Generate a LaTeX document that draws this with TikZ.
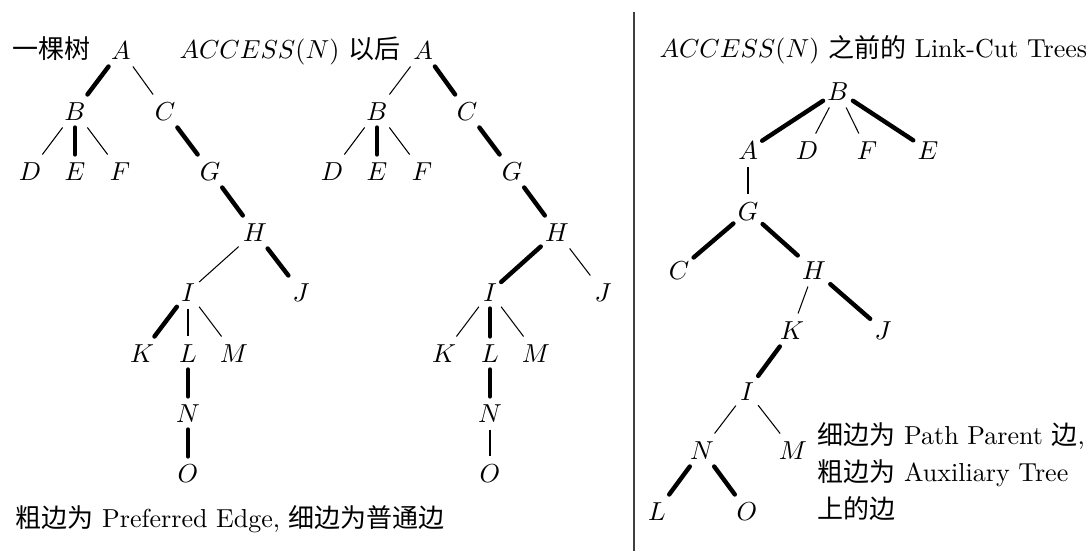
\documentclass[tikz,border=0pt]{standalone}
\usepackage{fontspec}
\newfontfamily\cjk{Noto Sans CJK SC}
\begin{document}
\begin{tikzpicture}[x=0.3846pt,y=-0.3846pt,
  tn/.style={rectangle, inner sep=1.5pt, text height=8.4pt, text depth=0.9pt},
  pe/.style={line width=1.7pt, line cap=round},
  ne/.style={line width=0.4pt},
  lbl/.style={anchor=base west, inner sep=0pt}]
\useasboundingbox (0,0) rectangle (1090,551);

% ---------- Tree 1 ----------
\foreach \n/\x/\y [count=\i] in {A/121/50,B/75/111,C/165/111,D/30/171,E/75/171,F/120/171,G/210/171,H/255/232,I/188/292,J/301/292,K/142/353,L/188/353,M/234/353,N/188/413,O/188/473}
  \node[tn] (\n1) at (\x,\y) {$\n$};
\draw[pe] (A1) -- (B1);
\draw[ne] (A1) -- (C1);
\draw[ne] (B1) -- (D1);
\draw[pe] (B1) -- (E1);
\draw[ne] (B1) -- (F1);
\draw[pe] (C1) -- (G1);
\draw[pe] (G1) -- (H1);
\draw[ne] (H1) -- (I1);
\draw[pe] (H1) -- (J1);
\draw[pe] (I1) -- (K1);
\draw[ne] (I1) -- (L1);
\draw[ne] (I1) -- (M1);
\draw[pe] (L1) -- (N1);
\draw[pe] (N1) -- (O1);

% ---------- Tree 2 ----------
\foreach \n/\x/\y in {A/423/50,B/377/111,C/467/111,D/332/171,E/377/171,F/422/171,G/512/171,H/557/232,I/490/292,J/603/292,K/444/353,L/490/353,M/536/353,N/490/413,O/490/473}
  \node[tn] (\n2) at (\x,\y) {$\n$};
\draw[ne] (A2) -- (B2);
\draw[pe] (A2) -- (C2);
\draw[ne] (B2) -- (D2);
\draw[pe] (B2) -- (E2);
\draw[ne] (B2) -- (F2);
\draw[pe] (C2) -- (G2);
\draw[pe] (G2) -- (H2);
\draw[pe] (H2) -- (I2);
\draw[ne] (H2) -- (J2);
\draw[ne] (I2) -- (K2);
\draw[pe] (I2) -- (L2);
\draw[ne] (I2) -- (M2);
\draw[pe] (L2) -- (N2);
\draw[ne] (N2) -- (O2);

% ---------- Tree 3 ----------
\foreach \n/\x/\y in {B/838/91,A/748/150,D/807/150,F/867/150,E/928/150,G/748/211,C/679/270,H/814/270,K/792/330,J/883/330,I/747/391,N/702/450,M/793/450,L/657/511,O/747/511}
  \node[tn] (\n3) at (\x,\y) {$\n$};
\draw[pe] (B3) -- (A3);
\draw[ne] (B3) -- (D3);
\draw[ne] (B3) -- (F3);
\draw[pe] (B3) -- (E3);
\draw[ne] (A3) -- (G3);
\draw[pe] (G3) -- (C3);
\draw[pe] (G3) -- (H3);
\draw[ne] (H3) -- (K3);
\draw[pe] (H3) -- (J3);
\draw[pe] (K3) -- (I3);
\draw[ne] (I3) -- (N3);
\draw[ne] (I3) -- (M3);
\draw[pe] (N3) -- (L3);
\draw[pe] (N3) -- (O3);

% ---------- separator ----------
\coordinate (sepTop) at (634,12);
\coordinate (sepBot) at (634,551);
\draw[line width=0.8pt, black!75] (sepTop) -- (sepBot);

% ---------- labels ----------
\node[lbl] (t1) at (12,59) {{\cjk 一棵树}};
\node[lbl] (t2) at (179,59) {$ACCESS(N)$ {\cjk 以后}};
\node[lbl] (t3) at (659,58) {$ACCESS(N)$ {\cjk 之前的} Link-Cut Trees};
\node[lbl] (r1) at (817,445) {{\cjk 细边为} Path Parent {\cjk 边},};
\node[lbl] (r2) at (817,482) {{\cjk 粗边为} Auxiliary Tree};
\node[lbl] (r3) at (817,519) {{\cjk 上的边}};
\node[lbl] (bt) at (15,528) {{\cjk 粗边为} Preferred Edge, {\cjk 细边为普通边}};
\end{tikzpicture}
\end{document}
